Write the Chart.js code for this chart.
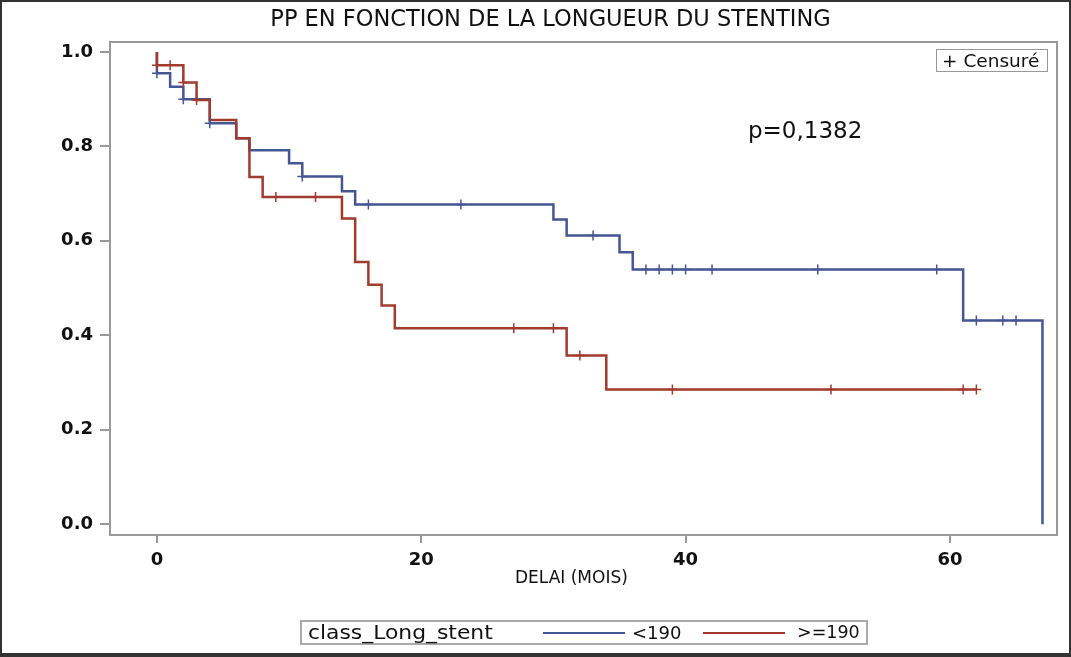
<!DOCTYPE html>
<html>
<head>
<meta charset="utf-8">
<script src="https://cdn.jsdelivr.net/npm/chart.js@4.4.0/dist/chart.umd.min.js"></script>
<style>
  body { margin: 0; background: #fff; }
  #wrap { position: relative; width: 1071px; height: 657px; font-family: "DejaVu Sans", sans-serif; color: #111; }
  #frame { position: absolute; left: 0; top: 0; width: 1071px; height: 657px; box-sizing: border-box;
           border: 2px solid #333; border-bottom-width: 4px; pointer-events: none; }
  #xtitle { position: absolute; left: 515px; top: 567px; font-size: 17px; line-height: 20px; white-space: nowrap; }
  #pval { position: absolute; left: 748px; top: 117px; font-size: 23px; line-height: 26px; white-space: nowrap; }
  #cens { position: absolute; left: 936px; top: 49px; width: 112px; height: 23px; box-sizing: border-box;
          border: 1px solid #999; font-size: 18.5px; line-height: 21px; padding-left: 5px; white-space: nowrap; }
  #legend { position: absolute; left: 300px; top: 620px; width: 568px; height: 25px; box-sizing: border-box;
            border: 2px solid #aaa; }
  #legend .lt { position: absolute; top: 0; font-size: 19px; line-height: 21px; white-space: nowrap; transform-origin: left center; }
  #legend .ln { position: absolute; top: 10px; width: 82px; height: 2px; }
</style>
</head>
<body>
<div id="wrap">
  <canvas id="kmChart" width="1071" height="657"></canvas>
  <div id="xtitle">DELAI (MOIS)</div>
  <div id="pval">p=0,1382</div>
  <div id="cens">+ Censuré</div>
  <div id="legend">
    <span class="lt" style="left:6px; transform: scaleX(1.15)">class_Long_stent</span>
    <span class="ln" style="left:241px; background:#445694"></span>
    <span class="lt" style="left:330px; font-size:18px">&lt;190</span>
    <span class="ln" style="left:401px; background:#A23A2E"></span>
    <span class="lt" style="left:495px; font-size:17.5px">&gt;=190</span>
  </div>
  <div id="frame"></div>
</div>
<script>
// Kaplan-Meier steps (time in months, survival after the drop)
const blueTimes = [0, 0, 1, 2, 4, 6, 7, 10, 11, 14, 15, 30, 31, 35, 36, 61, 67];
const blueSurv = [1.0, 0.955, 0.926, 0.900, 0.849, 0.817, 0.792, 0.764, 0.736, 0.705, 0.677, 0.645, 0.611, 0.576, 0.539, 0.431, 0.0];
const blueCensored = [0, 2, 4, 11, 16, 23, 33, 37, 38, 39, 40, 42, 50, 59, 62, 64, 65];

const redTimes = [0, 0, 2, 3, 4, 6, 7, 8, 14, 15, 16, 17, 18, 31, 34, 62];
const redSurv = [1.0, 0.972, 0.935, 0.898, 0.856, 0.817, 0.735, 0.693, 0.647, 0.555, 0.507, 0.463, 0.415, 0.357, 0.285, 0.285];
const redCensored = [0, 1, 2, 3, 9, 12, 27, 30, 32, 39, 51, 61, 62];

const xTicks = [0, 20, 40, 60];
const yTicks = [0, 0.2, 0.4, 0.6, 0.8, 1.0];

const BLUE = "#445694";
const RED = "#A23A2E";
const AXIS = "#999";

// value of the step curve at time t
function survAt(times, surv, t) {
    let v = surv[0];
    for (let i = 0; i < times.length; i++) {
        if (times[i] <= t) v = surv[i];
    }
    return v;
}

const toPoints = (times, surv) => times.map((t, i) => ({ x: t, y: surv[i] }));
const censorPoints = (cens, times, surv) => cens.map(t => ({ x: t, y: survAt(times, surv, t) }));

// frame round the plot area
const plotFrame = {
    id: "plotFrame",
    beforeDatasetsDraw(chart) {
        const { ctx, chartArea: a } = chart;
        ctx.save();
        ctx.strokeStyle = AXIS;
        ctx.lineWidth = 2;
        ctx.strokeRect(a.left, a.top, a.right - a.left, a.bottom - a.top);
        ctx.restore();
    }
};

const tickFont = { family: "DejaVu Sans", size: 18, weight: "bold" };

new Chart(document.getElementById("kmChart"), {
    type: "scatter",
    data: {
        datasets: [
            {
                label: ">=190",
                data: toPoints(redTimes, redSurv),
                showLine: true,
                stepped: "before",
                borderColor: RED,
                borderWidth: 2.5,
                pointRadius: 0,
                order: 2
            },
            {
                label: "<190",
                data: toPoints(blueTimes, blueSurv),
                showLine: true,
                stepped: "before",
                borderColor: BLUE,
                borderWidth: 2.5,
                pointRadius: 0,
                order: 3
            },
            {
                label: "censored >=190",
                data: censorPoints(redCensored, redTimes, redSurv),
                pointStyle: "cross",
                pointRadius: 5,
                borderColor: RED,
                borderWidth: 1.5,
                order: 0
            },
            {
                label: "censored <190",
                data: censorPoints(blueCensored, blueTimes, blueSurv),
                pointStyle: "cross",
                pointRadius: 5,
                borderColor: BLUE,
                borderWidth: 1.5,
                order: 1
            }
        ]
    },
    options: {
        responsive: false,
        animation: false,
        layout: { padding: { left: 44, right: 14, top: 0, bottom: 62 } },
        plugins: {
            legend: { display: false },
            tooltip: { enabled: false },
            title: {
                display: true,
                text: "PP EN FONCTION DE LA LONGUEUR DU STENTING",
                color: "#111",
                font: { family: "DejaVu Sans", size: 22.5, weight: "normal" },
                padding: { top: 7, bottom: 8 }
            }
        },
        scales: {
            x: {
                type: "linear",
                min: -3.55,
                max: 68.1,
                afterBuildTicks: s => { s.ticks = xTicks.map(v => ({ value: v })); },
                afterFit: s => { s.height = 60; },
                ticks: { color: "#111", font: tickFont, padding: 7, callback: v => String(v) },
                grid: { drawOnChartArea: false, drawTicks: true, tickLength: 8, color: AXIS, lineWidth: 2 },
                border: { display: true, color: AXIS, width: 2 }
            },
            y: {
                min: -0.023,
                max: 1.021,
                afterBuildTicks: s => { s.ticks = yTicks.map(v => ({ value: v })); },
                afterFit: s => { s.width = 66; },
                ticks: { color: "#111", font: tickFont, padding: 7, callback: v => v.toFixed(1) },
                grid: { drawOnChartArea: false, drawTicks: true, tickLength: 10, color: AXIS, lineWidth: 2 },
                border: { display: true, color: AXIS, width: 2 }
            }
        }
    },
    plugins: [plotFrame]
});
</script>
</body>
</html>
